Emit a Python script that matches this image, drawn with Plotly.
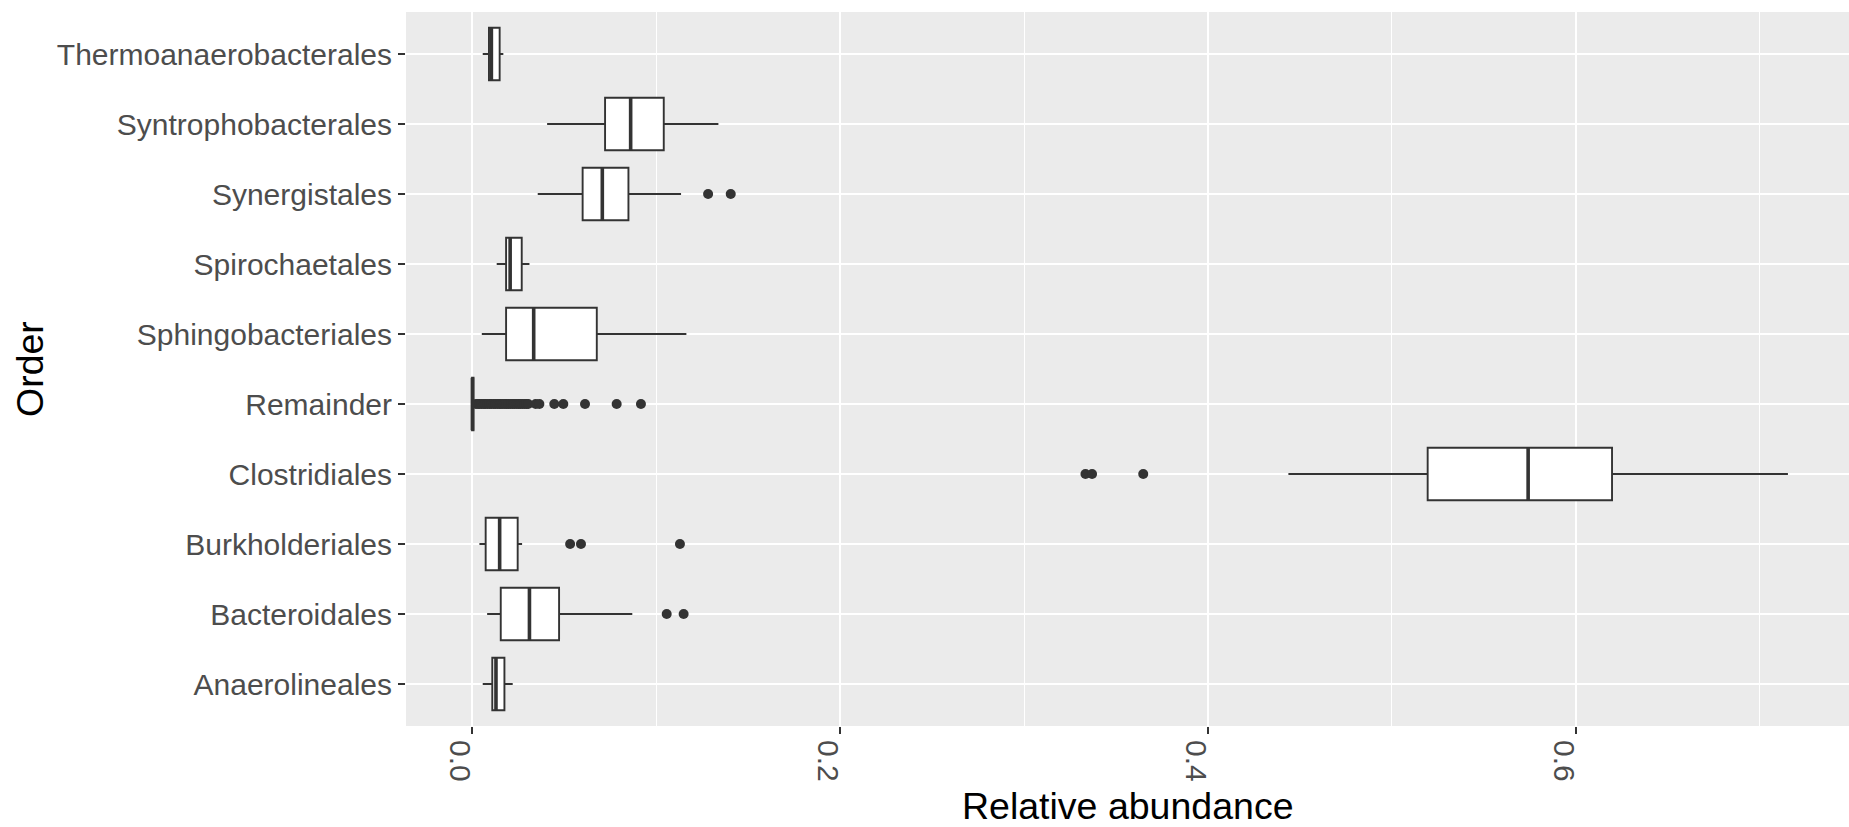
import plotly.graph_objects as go

# ---- data ----
categories = ["Anaerolineales", "Bacteroidales", "Burkholderiales", "Clostridiales",
              "Remainder", "Sphingobacteriales", "Spirochaetales", "Synergistales",
              "Syntrophobacterales", "Thermoanaerobacterales"]
lower_whisker = [0.0058, 0.0082, 0.0040, 0.4437, 0.0000, 0.0053, 0.0134, 0.0357, 0.0408, 0.0058]
q1            = [0.0110, 0.0156, 0.0074, 0.5194, 0.0000, 0.0185, 0.0185, 0.0601, 0.0723, 0.0092]
median        = [0.0130, 0.0312, 0.0150, 0.5740, 0.0002, 0.0335, 0.0207, 0.0708, 0.0862, 0.0105]
q3            = [0.0176, 0.0473, 0.0248, 0.6196, 0.0008, 0.0678, 0.0270, 0.0850, 0.1042, 0.0150]
upper_whisker = [0.0221, 0.0871, 0.0272, 0.7152, 0.0015, 0.1165, 0.0312, 0.1136, 0.1339, 0.0170]

outliers_bacteroidales = [0.1058, 0.1150]
outliers_burkholderiales = [0.0533, 0.0592, 0.1130]
outliers_clostridiales = [0.3334, 0.3370, 0.3648]
outliers_remainder = [0.0021, 0.0033, 0.0041, 0.0052, 0.0064, 0.0071, 0.0083,
                      0.0095, 0.0104, 0.0117, 0.0126, 0.0138, 0.0149, 0.0157, 0.0168,
                      0.0179, 0.0188, 0.0199, 0.0211, 0.0222, 0.0231, 0.0243, 0.0254,
                      0.0262, 0.0274, 0.0285, 0.0296, 0.0305, 0.0346, 0.0366, 0.0447,
                      0.0496, 0.0614, 0.0786, 0.0918]
outliers_synergistales = [0.1283, 0.1406]

x_ticks = [0.0, 0.2, 0.4, 0.6]
x_tick_labels = ["0.0", "0.2", "0.4", "0.6"]

# ---- styling ----
LINE = "#333333"
FONT = "Liberation Sans, Arial, sans-serif"
BOX_W = 0.75

positions = list(range(1, len(categories) + 1))

fig = go.Figure()

for i, cat in enumerate(categories):
    fig.add_trace(go.Box(
        orientation="h",
        y=[positions[i]],
        q1=[q1[i]], median=[median[i]], q3=[q3[i]],
        lowerfence=[lower_whisker[i]], upperfence=[upper_whisker[i]],
        boxpoints=False,
        whiskerwidth=0,
        width=BOX_W,
        fillcolor="white",
        line=dict(color=LINE, width=1.9),
        name=cat,
        showlegend=False,
        hoverinfo="skip",
    ))

# thick median lines (ggplot style)
mx, my = [], []
for i in range(len(categories)):
    mx += [median[i], median[i], None]
    my += [positions[i] - BOX_W / 2, positions[i] + BOX_W / 2, None]
fig.add_trace(go.Scatter(x=mx, y=my, mode="lines",
                         line=dict(color=LINE, width=3.6),
                         showlegend=False, hoverinfo="skip"))

# outliers
ox, oy = [], []
for cat, vals in [("Bacteroidales", outliers_bacteroidales),
                  ("Burkholderiales", outliers_burkholderiales),
                  ("Clostridiales", outliers_clostridiales),
                  ("Remainder", outliers_remainder),
                  ("Synergistales", outliers_synergistales)]:
    p = positions[categories.index(cat)]
    ox += vals
    oy += [p] * len(vals)
fig.add_trace(go.Scatter(x=ox, y=oy, mode="markers",
                         marker=dict(color=LINE, size=10, line=dict(width=0)),
                         showlegend=False, hoverinfo="skip"))

W, H = 1849, 827
L, R, T, B = 406, 0, 12, 101

fig.update_layout(
    width=W, height=H, autosize=False,
    margin=dict(l=L, r=R, t=T, b=B, pad=0),
    paper_bgcolor="white",
    plot_bgcolor="#EBEBEB",
    boxmode="overlay",
    font=dict(family=FONT, color="#4D4D4D", size=30),
    xaxis=dict(
        range=[-0.0359, 0.7484],
        tickvals=x_ticks, ticktext=x_tick_labels,
        tickangle=90,
        ticks="outside", ticklen=7, tickwidth=1.6, tickcolor=LINE,
        tickfont=dict(family=FONT, size=30, color="#4D4D4D"),
        ticklabelshift=-12,
        showgrid=True, gridcolor="white", gridwidth=2,
        minor=dict(tickvals=[0.1, 0.3, 0.5, 0.7], showgrid=True,
                   gridcolor="white", gridwidth=1, ticks=""),
        zeroline=False, showline=False,
    ),
    yaxis=dict(
        range=[0.4, len(categories) + 0.6],
        tickvals=positions, ticktext=categories,
        ticks="outside", ticklen=7, tickwidth=1.6, tickcolor=LINE,
        tickfont=dict(family=FONT, size=30, color="#4D4D4D"),
        showgrid=True, gridcolor="white", gridwidth=2,
        zeroline=False, showline=False,
    ),
    annotations=[
        dict(text="Relative abundance", xref="paper", yref="paper",
             x=0.5, y=(H - B - 806) / (H - T - B), xanchor="center", yanchor="middle",
             showarrow=False, font=dict(family=FONT, size=37.5, color="black")),
        dict(text="Order", xref="paper", yref="paper",
             x=(30 - L) / (W - L - R), y=0.5, xanchor="center", yanchor="middle",
             textangle=-90, showarrow=False,
             font=dict(family=FONT, size=37.5, color="black")),
    ],
)

fig.write_html("out.html")
